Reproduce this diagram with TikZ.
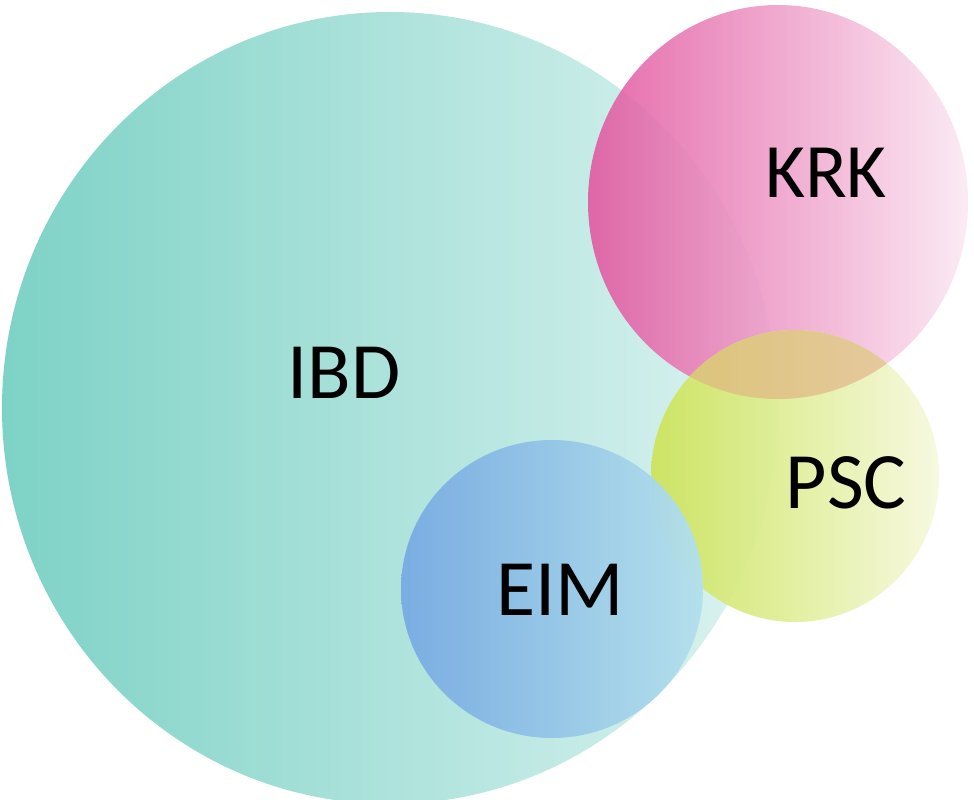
\documentclass[tikz,border=0pt]{standalone}
\usepackage{fontspec}
\setmainfont{Carlito}
\definecolor{ibdL}{HTML}{7DD2C6}
\definecolor{ibdR}{HTML}{DDF3F1}
\definecolor{krkL}{HTML}{E2559F}
\definecolor{krkR}{HTML}{FBE8F3}
\definecolor{pscL}{HTML}{CCE458}
\definecolor{pscR}{HTML}{F6F9DE}
\definecolor{ovL}{HTML}{D9C474}
\definecolor{ovR}{HTML}{E9C9A6}
\definecolor{eimL}{HTML}{78ABE3}
\definecolor{eimR}{HTML}{B3E0EC}
\tikzset{
  lbl/.style={anchor=base, inner sep=0pt, text=black, font=\fontsize{80}{82}\selectfont},
}
\begin{document}
\begin{tikzpicture}[x=1pt, y=-1pt]
\useasboundingbox (0,0) rectangle (974,800);
\fill[white] (0,0) rectangle (974,800);
% IBD
\path[left color=ibdL, right color=ibdR] (390,408) ellipse [x radius=388pt, y radius=396pt];
% KRK
\path[left color=krkL, right color=krkR, fill opacity=0.88] (778,202) ellipse [x radius=190pt, y radius=197pt];
% PSC
\path[left color=pscL, right color=pscR, fill opacity=0.92] (795,476) ellipse [x radius=144pt, y radius=146pt];
% overlap KRK & PSC
\begin{scope}
  \clip (778,202) ellipse [x radius=190pt, y radius=197pt];
  \path[left color=ovL, right color=ovR] (795,476) ellipse [x radius=144pt, y radius=146pt];
\end{scope}
% EIM
\path[left color=eimL, right color=eimR, fill opacity=0.96] (552,589) ellipse [x radius=151pt, y radius=149pt];
% labels
\node[lbl] (ibd) at (344,398) {IBD};
\node[lbl, font=\fontsize{77}{80}\selectfont] (krk) at (826,197) {KRK};
\node[lbl] (psc) at (846,508) {PSC};
\node[lbl] (eim) at (560,615) {EIM};
\end{tikzpicture}
\end{document}
